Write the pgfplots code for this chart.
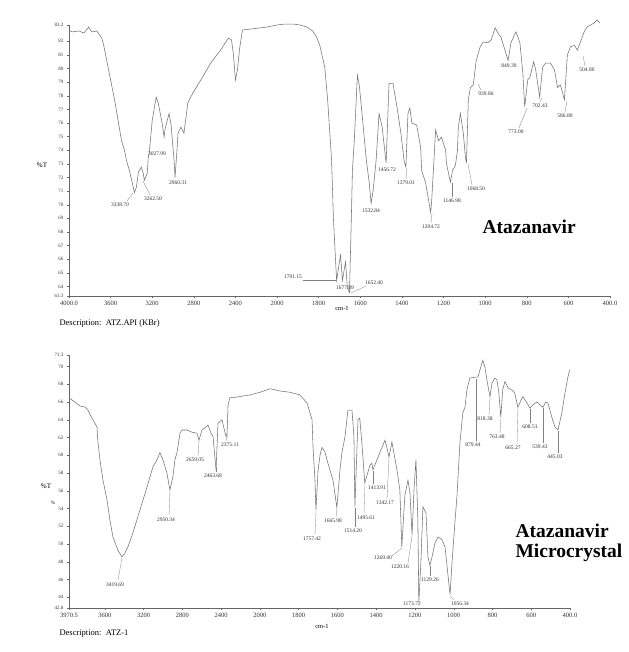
\documentclass[border=0pt]{standalone}
\usepackage{fontspec}
\setmainfont{Liberation Serif}
\usepackage{pgfplots}
\usepackage{pgfplotstable}
\pgfplotsset{compat=1.18}

\pgfplotstableread{
wn T
4000 82.83
3971 82.69
3905 82.76
3857 82.61
3810 83.05
3781 82.69
3733 82.76
3705 82.46
3686 82.24
3667 81.73
3657 81.36
3562 77.7
3495 74.7
3467 74.0
3448 73.27
3429 72.76
3419 72.5
3371 70.9
3352 71.3
3333 72.4
3305 72.76
3286 72.3
3276 71.8
3248 72.3
3238 73.5
3229 73.8
3200 76.2
3162 77.9
3143 77.5
3105 76.0
3086 74.96
3076 75.6
3038 76.7
3019 75.85
2990 73.27
2981 72.0
2962 74.0
2952 75.26
2924 75.7
2895 75.26
2857 77.5
2810 78.2
2733 79.16
2638 80.4
2543 81.36
2467 82.24
2438 82.1
2419 81.0
2400 79.16
2381 79.9
2362 81.36
2333 82.83
2257 82.9
2095 83.05
2000 83.2
1962 83.27
1924 83.27
1890 83.2
1857 83.05
1829 82.76
1810 82.3
1795 81.73
1771 80.1
1757 77.7
1738 73.27
1729 68.9
1714 64.45
1695 66.3
1686 64.45
1671 65.8
1662 63.9
1652 63.57
1643 69.1
1638 72.5
1629 74.7
1614 79.5
1605 78.8
1590 76.4
1571 73.27
1557 71.6
1548 70.1
1538 71.1
1524 73.27
1510 76.7
1495 75.7
1476 73.05
1462 78.9
1443 78.9
1424 77.2
1405 75.26
1390 73.27
1381 72.76
1371 76.7
1362 77.1
1352 76.0
1329 75.85
1310 74.2
1305 72.5
1286 71.6
1262 69.45
1257 70.3
1248 72.76
1238 75.5
1224 74.7
1210 74.96
1190 74.0
1186 73.05
1167 71.65
1157 72.5
1143 72.9
1133 74.0
1129 75.7
1119 76.7
1105 75.26
1095 73.5
1090 73.05
1081 77.7
1071 78.6
1057 78.8
1043 80.6
1024 81.6
1010 81.95
986 81.9
971 82.1
952 83.0
938 82.6
924 82.3
905 81.36
890 80.6
876 81.9
852 82.7
833 81.9
819 79.7
810 77.2
795 79.2
786 79.3
767 80.5
757 79.9
738 77.9
724 80.1
710 80.4
686 80.4
667 79.9
652 78.6
638 78.8
619 77.7
605 81.0
590 81.6
571 81.7
557 81.36
543 81.9
524 82.7
510 83.05
476 83.35
462 83.57
448 83.35
}\topdata

\pgfplotstableread{
wn T
3970 66.46
3909 66.0
3858 65.56
3806 65.44
3775 65.1
3734 64.2
3723 64.0
3682 63.2
3672 61.5
3651 59.5
3620 57.2
3579 55.0
3548 52.7
3517 50.8
3465 49.3
3424 48.55
3393 49.0
3362 49.7
3310 51.3
3238 53.85
3166 56.4
3104 58.7
3063 59.5
3032 60.3
3001 59.5
2960 58.0
2929 56.1
2898 57.6
2877 59.5
2856 60.3
2825 62.5
2805 62.85
2753 62.85
2701 62.6
2650 62.5
2629 61.7
2598 62.85
2536 63.4
2505 62.5
2484 62.1
2453 58.35
2433 63.6
2392 64.0
2361 62.6
2340 62.1
2329 65.7
2309 66.5
2278 66.5
2103 66.8
2000 67.1
1948 67.5
1897 67.25
1845 67.1
1794 66.8
1757 65.9
1731 64.0
1726 60.9
1716 57.2
1711 53.85
1700 58.35
1690 60.0
1680 60.9
1665 60.4
1649 59.1
1623 57.2
1603 54.1
1587 58.35
1577 60.3
1561 62.1
1546 65.1
1525 65.1
1515 62.1
1510 54.2
1494 64.0
1485 64.2
1474 61.4
1459 56.9
1432 58.9
1422 59.1
1417 58.35
1396 59.5
1370 60.9
1355 61.7
1345 60.9
1334 59.8
1319 61.5
1314 60.9
1293 58.35
1278 56.1
1268 49.7
1252 55.5
1236 57.2
1226 55.8
1215 51.0
1205 56.1
1195 59.5
1185 52.7
1180 43.4
1169 48.2
1159 54.2
1143 53.5
1133 48.55
1123 47.6
1112 48.55
1097 50.1
1081 50.8
1061 50.5
1045 49.7
1034 47.4
1019 44.3
1009 47.9
993 52.7
983 55.5
968 61.4
953 64.8
942 65.4
932 67.35
917 68.7
891 68.8
875 68.8
865 69.6
850 70.7
839 69.95
829 68.5
813 66.6
803 68.1
788 68.7
777 68.5
767 67.0
757 64.3
747 67.4
736 68.3
720 67.6
700 67.35
685 67.0
669 65.4
653 66.2
643 66.6
622 65.9
607 65.3
591 65.7
571 66.0
555 65.7
540 65.4
525 66.0
514 65.9
494 64.3
478 63.2
462 62.85
442 64.8
426 67.0
411 68.8
402 69.6
}\botdata

\definecolor{curve}{gray}{0.45}
\definecolor{axcol}{gray}{0.4}

\pgfplotsset{
  ftir/.style={
    scale only axis,
    axis x line*=bottom, axis y line*=left,
    axis line style={axcol, line width=0.6pt},
    tick style={axcol, line width=0.4pt},
    tick align=outside, major tick length=2pt,
    xticklabel style={font=\fontsize{6.5}{7}\selectfont, text=black!80},
    yticklabel style={font=\fontsize{5}{6}\selectfont, text=black!80},
    /pgf/number format/assume math mode=true,
    /pgf/number format/.cd, fixed, precision=1, /pgfplots/.cd,
    x filter/.expression={x>=2000 ? (4000-x)/400 : 5+(2000-x)/200},
    clip=false,
    xmax=13,
  },
  spec/.style={curve, line width=0.55pt, no marks},
}

\tikzset{pk/.style={font=\fontsize{5.5}{6}\selectfont, text=black!80, inner sep=0.5pt},
         ld/.style={gray, line width=0.3pt}}

\begin{document}
\begin{tikzpicture}
\useasboundingbox (0,0) rectangle (628pt,652pt);
\fill[white] (0,0) rectangle (628pt,652pt);

% top spectrum
\begin{axis}[ftir,
  at={(69pt,356pt)}, anchor=south west,
  width=541pt, height=271pt,
  xmin=0, ymin=63.3, ymax=83.2,
  xtick={0,1,2,3,4,5,6,7,8,9,10,11,12,13},
  xticklabels={4000.0,3600,3200,2800,2400,2000,1800,1600,1400,1200,1000,800,600,400.0},
  ytick={63.3,64,65,...,82,83.2},
]
\addplot[spec] table[x=wn,y=T] {\topdata};
\end{axis}

% bottom spectrum
\begin{axis}[ftir,
  at={(69pt,44pt)}, anchor=south west,
  width=501pt, height=253pt,
  xmin=0.07375, ymin=42.8, ymax=71.3,
  xtick={0.07375,1,2,3,4,5,6,7,8,9,10,11,12,13},
  xticklabels={3970.5,3600,3200,2800,2400,2000,1800,1600,1400,1200,1000,800,600,400.0},
  ytick={42.8,44,46,...,70,71.3},
]
\addplot[spec] table[x=wn,y=T] {\botdata};
\end{axis}

% annotations in pixel coordinates
\begin{scope}[x=1pt,y=-1pt,yshift=652pt]
% top labels
\node[font=\fontsize{7}{8}\selectfont] at (42,165) {\%T};
\node[font=\fontsize{6.5}{7}\selectfont] at (342,308) {cm-1};
\node[anchor=west,font=\fontsize{8.5}{9}\selectfont] at (56,323) {Description:\ \ ATZ.API (KBr)};
\node[anchor=west,font=\fontsize{19.5}{22}\selectfont\bfseries] at (479,227) {Atazanavir};

\node[pk] at (120,205) {3338.70}; \draw[ld] (127,201)--(133,193);
\node[pk] at (153,199) {3262.50}; \draw[ld] (150,195)--(143,181);
\node[pk] at (157,154) {3027.99};
\node[pk] at (178,183) {2960.31};
\node[pk] at (293,277) {1701.15}; \draw[ld] (303,280)--(337,280);
\node[pk] at (345,288) {1677.89};
\node[pk] at (374,283) {1652.40}; \draw[ld] (366,286)--(351,293);
\node[pk] at (371,211) {1532.84};
\node[pk] at (387,170) {1456.72};
\node[pk] at (406,183) {1379.01}; \draw[ld] (406,179)--(407,168);
\node[pk] at (431,227) {1204.72}; \draw[ld] (431,223)--(432,213);
\node[pk] at (452,201) {1146.98}; \draw[ld] (452,197)--(452,183);
\node[pk] at (476,189) {1068.50}; \draw[ld] (472,185)--(468,164);
\node[pk] at (486,94) {939.86}; \draw[ld] (481,90)--(478,84);
\node[pk] at (509,66) {849.39};
\node[pk] at (516,132) {773.00}; \draw[ld] (519,128)--(527,108);
\node[pk] at (540,106) {702.43}; \draw[ld] (540,102)--(542,98);
\node[pk] at (565,116) {586.80}; \draw[ld] (565,112)--(567,101);
\node[pk] at (587,70) {504.80}; \draw[ld] (585,66)--(583,56);

% bottom labels
\node[font=\fontsize{7}{8}\selectfont] at (46,486) {\%T};
\node[font=\fontsize{5}{6}\selectfont] at (53,503) {\%};
\node[font=\fontsize{6.5}{7}\selectfont] at (322,626) {cm-1};
\node[anchor=west,font=\fontsize{8.5}{9}\selectfont] at (56,634) {Description:\ \ ATZ-1};
\node[anchor=west,font=\fontsize{19.5}{22}\selectfont\bfseries] at (512,531) {Atazanavir};
\node[anchor=west,font=\fontsize{19.5}{22}\selectfont\bfseries] at (512,553) {Microcrystal};

\node[pk] at (115,585) {3419.69}; \draw[ld] (118,580)--(122,558);
\node[pk] at (166,520) {2950.34}; \draw[ld] (169,515)--(170,491);
\node[pk] at (195,460) {2659.05}; \draw[ld] (198,456)--(199,441);
\node[pk] at (213,476) {2463.68}; \draw[ld] (216,472)--(216,467);
\node[pk] at (230,445) {2375.11}; \draw[ld] (227,441)--(225,433);
\node[pk] at (312,539) {1757.42}; \draw[ld] (315,535)--(316,511);
\node[pk] at (333,521) {1665.98}; \draw[ld] (336,517)--(337,509);
\node[pk] at (353,531) {1514.20}; \draw[ld] (355,527)--(355,508);
\node[pk] at (366,518) {1495.61}; \draw[ld] (364,514)--(365,484);
\node[pk] at (377,488) {1413.91}; \draw[ld] (373,484)--(373,471);
\node[pk] at (385,503) {1342.17}; \draw[ld] (387,499)--(389,458);
\node[pk] at (383,558) {1269.40}; \draw[ld] (392,556)--(402,548);
\node[pk] at (400,567) {1220.16}; \draw[ld] (408,563)--(412,536);
\node[pk] at (412,604) {1173.72};
\node[pk] at (430,580) {1129.26}; \draw[ld] (430,576)--(430,566);
\node[pk] at (460,604) {1056.34}; \draw[ld] (454,600)--(450,596);
\node[pk] at (473,445) {879.44}; \draw[ld] (476,441)--(476,379);
\node[pk] at (485,419) {818.38}; \draw[ld] (489,415)--(490,398);
\node[pk] at (497,437) {763.48}; \draw[ld] (500,433)--(501,418);
\node[pk] at (513,448) {665.27}; \draw[ld] (517,444)--(518,408);
\node[pk] at (530,427) {608.51}; \draw[ld] (530,423)--(530,409);
\node[pk] at (540,447) {539.43}; \draw[ld] (543,443)--(543,408);
\node[pk] at (555,457) {445.03}; \draw[ld] (558,453)--(558,431);
\end{scope}
\end{tikzpicture}
\end{document}
